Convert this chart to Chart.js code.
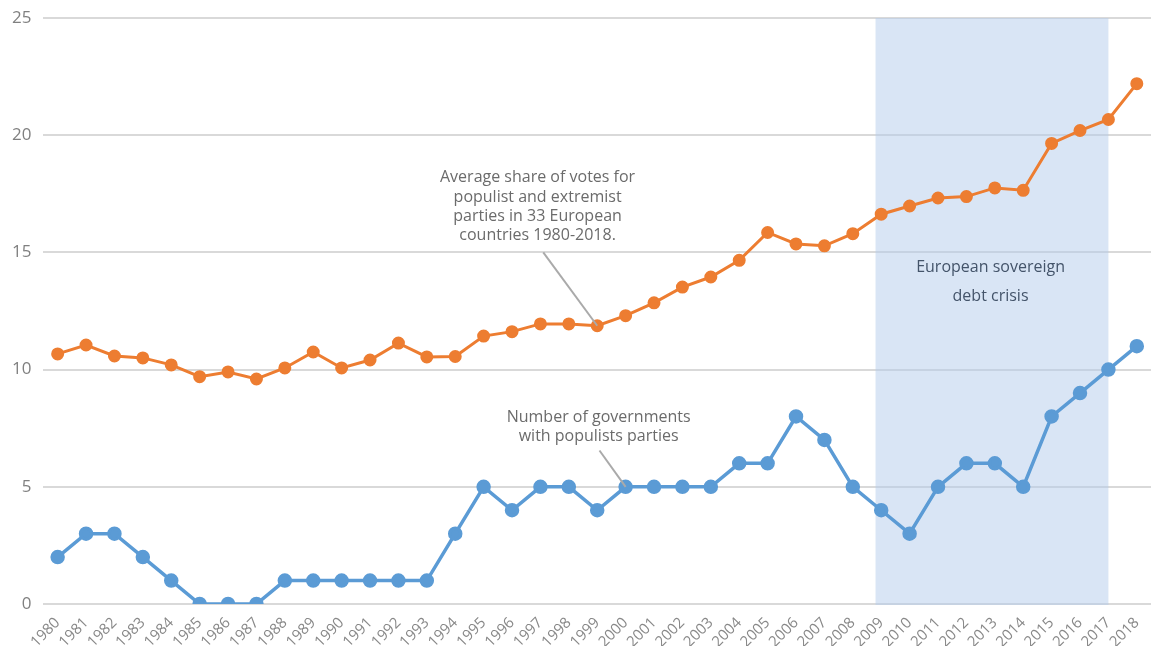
<!DOCTYPE html>
<html>
<head>
<meta charset="utf-8">
<script src="https://cdn.jsdelivr.net/npm/chart.js@4"></script>
<style>
  html, body { margin: 0; padding: 0; background: #fff; }
  #wrap { width: 1160px; height: 646px; }
</style>
</head>
<body>
<div id="wrap"><canvas id="chart"></canvas></div>
<script>
// years on the x axis
const years = [];
for (let y = 1980; y <= 2018; y++) years.push(String(y));

// average vote share, populist + extremist parties (%)
const voteShare = [10.67, 11.05, 10.58, 10.5, 10.2, 9.7, 9.9, 9.6, 10.07, 10.75,
  10.07, 10.41, 11.13, 10.54, 10.56, 11.43, 11.62, 11.95, 11.95, 11.87,
  12.3, 12.85, 13.52, 13.95, 14.66, 15.85, 15.36, 15.28, 15.8, 16.63,
  16.98, 17.32, 17.38, 17.75, 17.65, 19.65, 20.2, 20.67, 22.2];

// governments including populist parties
const govCount = [2, 3, 3, 2, 1, 0, 0, 0, 1, 1, 1, 1, 1, 1, 3, 5, 4, 5, 5, 4,
  5, 5, 5, 5, 6, 6, 8, 7, 5, 4, 3, 5, 6, 6, 5, 8, 9, 10, 11];

const yTicks = [0, 5, 10, 15, 20, 25];

// shaded band (category index range) and notes
const crisisBand = [28.8, 37.0];
const crisisText = ["European sovereign", "debt crisis"];
const voteNote = ["Average share of votes for", "populist and extremist", "parties in 33 European", "countries 1980-2018."];
const govNote = ["Number of governments", "with populists parties"];

const FONT = "'Open Sans', Lato, sans-serif";

const annotations = {
  id: "annotations",
  beforeDatasetsDraw(chart) {
    const { ctx, chartArea, scales: { x, y } } = chart;
    // crisis band
    ctx.save();
    ctx.fillStyle = "rgba(180,203,235,0.5)";
    const x0 = x.getPixelForValue(crisisBand[0]);
    const x1 = x.getPixelForValue(crisisBand[1]);
    ctx.fillRect(x0, chartArea.top, x1 - x0, y.getPixelForValue(0) - chartArea.top + 1);
    ctx.restore();
  },
  afterDatasetsDraw(chart) {
    const { ctx, scales: { x, y } } = chart;
    ctx.save();
    ctx.textAlign = "center";
    ctx.textBaseline = "middle";
    ctx.font = "16px " + FONT;

    // crisis label
    ctx.fillStyle = "#44546a";
    ctx.fillText(crisisText[0], x.getPixelForValue(32.85), y.getPixelForValue(14.35));
    ctx.fillText(crisisText[1], x.getPixelForValue(32.85), y.getPixelForValue(13.1));

    // vote share note with leader line
    ctx.fillStyle = "#6b6b6b";
    voteNote.forEach((t, i) => {
      ctx.fillText(t, x.getPixelForValue(16.9), y.getPixelForValue(18.18 - i * 0.82));
    });
    ctx.strokeStyle = "#aaaaaa";
    ctx.lineWidth = 2;
    ctx.beginPath();
    ctx.moveTo(x.getPixelForValue(17.1), y.getPixelForValue(15.0));
    ctx.lineTo(x.getPixelForValue(19), y.getPixelForValue(voteShare[19]));
    ctx.stroke();

    // government count note with leader line
    govNote.forEach((t, i) => {
      ctx.fillText(t, x.getPixelForValue(19.05), y.getPixelForValue(7.95 - i * 0.82));
    });
    ctx.beginPath();
    ctx.moveTo(x.getPixelForValue(19.08), y.getPixelForValue(6.55));
    ctx.lineTo(x.getPixelForValue(20), y.getPixelForValue(govCount[20]));
    ctx.stroke();
    ctx.restore();
  }
};

new Chart(document.getElementById("chart"), {
  type: "line",
  data: {
    labels: years,
    datasets: [
      {
        label: "Vote share",
        data: voteShare,
        borderColor: "#ed7d31",
        backgroundColor: "#ed7d31",
        borderWidth: 3,
        pointRadius: 5,
        pointHoverRadius: 5,
        tension: 0
      },
      {
        label: "Governments",
        data: govCount,
        borderColor: "#5b9bd5",
        backgroundColor: "#5b9bd5",
        borderWidth: 3.5,
        pointRadius: 5.5,
        pointHoverRadius: 5.5,
        tension: 0
      }
    ]
  },
  options: {
    responsive: true,
    maintainAspectRatio: false,
    animation: false,
    layout: { padding: { top: 18, right: 0, left: 0, bottom: 0 } },
    plugins: {
      legend: { display: false },
      tooltip: { enabled: false }
    },
    scales: {
      x: {
        offset: true,
        grid: { display: false },
        border: { display: false },
        afterFit: axis => {
          axis.height = 42;
          axis.paddingLeft = 0;
          axis.paddingRight = 0;
        },
        ticks: {
          color: "#888",
          font: { family: FONT, size: 15 },
          maxRotation: 45,
          minRotation: 45,
          autoSkip: false,
          padding: 2
        }
      },
      y: {
        min: 0,
        max: 25,
        afterBuildTicks: axis => { axis.ticks = yTicks.map(v => ({ value: v })); },
        afterFit: axis => {
          axis.paddingTop = 0;
          axis.paddingBottom = 0;
        },
        grid: { color: "#d9d9d9", lineWidth: 2, drawTicks: false },
        border: { display: false },
        ticks: {
          color: "#808080",
          font: { family: FONT, size: 17 },
          padding: 12
        }
      }
    }
  },
  plugins: [annotations]
});
</script>
</body>
</html>
